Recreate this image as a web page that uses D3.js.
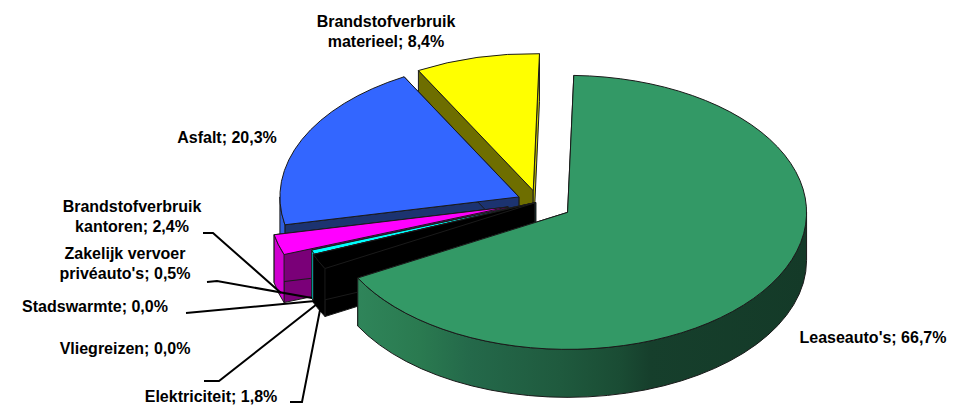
<!DOCTYPE html>
<html>
<head>
<meta charset="utf-8">
<script src="https://cdn.jsdelivr.net/npm/d3@7"></script>
<style>
  html, body { margin: 0; padding: 0; background: #fff; }
  text { font-family: "Liberation Sans", Arial, sans-serif; font-weight: bold; font-size: 16px; fill: #000; }
</style>
</head>
<body>
<svg id="chart" width="962" height="408"></svg>
<script>
// Cost shares per category, in pie order (clockwise from the top).
const categories = ["Leaseauto's", "Elektriciteit", "Vliegreizen", "Stadswarmte",
  "Zakelijk vervoer privéauto's", "Brandstofverbruik kantoren", "Asfalt", "Brandstofverbruik materieel"];
const shares = [66.7, 1.8, 0.0, 0.0, 0.5, 2.4, 20.3, 8.4];
// How far each slice is pulled out of the pie, as a fraction of the radius.
const explosion = [0.145, 0.015, 0.015, 0.015, 0.01, 0.13, 0.088, 0.085];
const topColors = ["#339966", "#000000", "#000000", "#000000", "#00ffff", "#ff00ff", "#3366ff", "#ffff00"];
const startWallColors = ["#1c5c3c", "#000000", "#000000", "#000000", "#008080", "#7a0078", "#1c3370", "#6e6e00"];
const endWallColors = ["#1c5c3c", "#000000", "#000000", "#000000", "#008080", "#7a0078", "#1c3370", "#c8c800"];
const rimColors = ["url(#greenRim)", "#000000", "#000000", "#000000", "#00e0e0", "#d000d0", "#2f5fe0", "#c8c800"];
const labelLines = [
  ["Leaseauto's; 66,7%"], ["Elektriciteit; 1,8%"], ["Vliegreizen; 0,0%"], ["Stadswarmte; 0,0%"],
  ["Zakelijk vervoer", "privéauto's; 0,5%"], ["Brandstofverbruik", "kantoren; 2,4%"],
  ["Asfalt; 20,3%"], ["Brandstofverbruik", "materieel; 8,4%"]
];
const labelAnchors = [[873, 343], [211, 402], [125, 354], [95, 312], [125, 259], [132, 212], [227, 143], [386, 27]];
// Elbowed leader lines from the small slices back to their labels.
const leaders = [null,
  [[290, 402], [302, 402], [320, 310]],
  [[204, 381], [219, 381], [317, 304]],
  [[186, 313], [315, 301]],
  [[207, 282], [217, 281], [312, 298]],
  [[203, 233], [213, 233], [281, 293]],
  null, null];

const rx = 239, ry = 137, depth = 48;
const centre = { x: 538, y: 202 };
const rad = d => d * Math.PI / 180;

const pie = d3.pie().sort(null).startAngle(rad(1.5)).endAngle(rad(361.5));
const arcs = pie(shares);

const svg = d3.select("#chart");
const stops = [[356, "#2f855a"], [420, "#2a7a50"], [470, "#24694a"], [560, "#1f5a3e"], [620, "#1a4c34"], [650, "#163f2c"], [806, "#143a28"]];
svg.append("defs").append("linearGradient").attr("id", "greenRim")
  .attr("gradientUnits", "userSpaceOnUse").attr("x1", 356).attr("x2", 806).attr("y1", 0).attr("y2", 0)
  .selectAll("stop").data(stops).join("stop")
  .attr("offset", d => (d[0] - 356) / 450).attr("stop-color", d => d[1]);

// Ellipse projection: angle measured clockwise from the top of the pie.
const project = (c, a, dy = 0) => [c.x + rx * Math.sin(a), c.y - ry * Math.cos(a) + dy];
const fmt = p => p[0].toFixed(2) + "," + p[1].toFixed(2);
const ellipseTo = (p, a0, a1, sweep) =>
  `A${rx},${ry} 0 ${Math.abs(a1 - a0) > Math.PI ? 1 : 0} ${sweep} ${fmt(p)}`;

const sliceCentre = (d, i) => {
  const mid = (d.startAngle + d.endAngle) / 2;
  return { x: centre.x + explosion[i] * rx * Math.sin(mid), y: centre.y - explosion[i] * ry * Math.cos(mid) };
};
const radialWall = (c, a) => "M" + fmt([c.x, c.y]) + "L" + fmt(project(c, a)) +
  "L" + fmt(project(c, a, depth)) + "L" + fmt([c.x, c.y + depth]) + "Z";
const rimWall = (c, a0, a1) => {
  // Only the part of the rim on the viewer's side of the pie is drawn.
  const lo = Math.max(a0, Math.PI / 2), hi = Math.min(a1, 3 * Math.PI / 2);
  if (hi <= lo) return null;
  return "M" + fmt(project(c, lo)) + ellipseTo(project(c, hi), lo, hi, 1) +
    "L" + fmt(project(c, hi, depth)) + ellipseTo(project(c, lo, depth), lo, hi, 0) + "Z";
};
const topFace = (c, a0, a1) => "M" + fmt([c.x, c.y]) + "L" + fmt(project(c, a0)) +
  ellipseTo(project(c, a1), a0, a1, 1) + "Z";

// Painter's order: the back slices first, the large front slice last.
const order = [7, 6, 5, 4, 3, 2, 1, 0];
const pieLayer = svg.append("g").attr("stroke", "#1a1a1a").attr("stroke-width", 1).attr("stroke-linejoin", "round");
order.forEach(i => {
  const d = arcs[i];
  if (d.endAngle - d.startAngle <= 0) return;
  const c = sliceCentre(d, i);
  const g = pieLayer.append("g").attr("class", "slice");
  g.append("path").attr("d", radialWall(c, d.startAngle)).attr("fill", startWallColors[i]);
  g.append("path").attr("d", radialWall(c, d.endAngle)).attr("fill", endWallColors[i]);
  const rim = rimWall(c, d.startAngle, d.endAngle);
  if (rim) g.append("path").attr("d", rim).attr("fill", rimColors[i]);
  g.append("path").attr("d", topFace(c, d.startAngle, d.endAngle)).attr("fill", topColors[i]);
});

svg.append("g").attr("fill", "none").attr("stroke", "#000").attr("stroke-width", 2)
  .selectAll("path").data(leaders.filter(Boolean)).join("path").attr("d", d3.line());

const labels = svg.append("g").selectAll("text").data(categories).join("text")
  .attr("text-anchor", "middle").attr("data-name", d => d)
  .attr("x", (d, i) => labelAnchors[i][0]).attr("y", (d, i) => labelAnchors[i][1]);
labels.selectAll("tspan").data((d, i) => labelLines[i].map((t, k) => ({ t, k, i }))).join("tspan")
  .attr("x", d => labelAnchors[d.i][0]).attr("dy", d => d.k ? 20 : 0).text(d => d.t);
</script>
</body>
</html>
